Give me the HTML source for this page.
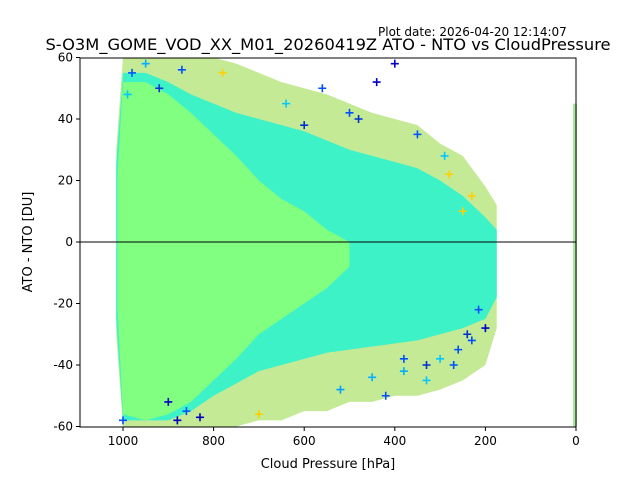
<!DOCTYPE html>
<html><head><meta charset="utf-8"><style>
body{margin:0;background:#fff;}
svg text{font-family:"DejaVu Sans","Liberation Sans",sans-serif;fill:#000;}
</style></head><body>
<svg id="chart" width="640" height="480" viewBox="0 0 640 480" xmlns="http://www.w3.org/2000/svg">
<rect width="640" height="480" fill="#fff"/>
<text x="378" y="36" font-size="12">Plot date: 2026-04-20 12:14:07</text>
<text x="328" y="50" font-size="16.3" text-anchor="middle">S-O3M_GOME_VOD_XX_M01_20260419Z ATO - NTO vs CloudPressure</text>
<g id="plot"></g>
<text x="328" y="468" font-size="13" text-anchor="middle">Cloud Pressure [hPa]</text>
<text transform="translate(32,242) rotate(-90)" font-size="13" text-anchor="middle">ATO - NTO [DU]</text>
</svg>
<script>
const pressures=[1015,1000,950,900,850,800,750,700,650,600,550,500,450,400,350,300,250,200,175];
const outerHi=[30,60,60,60,60,60,58,55,52,50,48,45,42,40,38,32,28,18,12];
const outerLo=[-30,-60,-60,-60,-60,-60,-60,-58,-58,-55,-55,-52,-52,-50,-50,-48,-45,-40,-28];
const midHi=[25,55,55,52,48,45,42,40,38,36,33,30,28,26,24,20,15,8,4];
const midLo=[-25,-58,-58,-58,-55,-50,-46,-42,-40,-38,-36,-35,-34,-33,-32,-30,-28,-25,-18];
const innerP=[1012,1000,950,900,850,800,750,700,650,600,550,500];
const innerHi=[22,52,52,48,42,35,28,20,14,10,4,0];
const innerLo=[-22,-56,-58,-56,-52,-45,-38,-30,-25,-20,-15,-8];
const ptP=[980,950,920,880,860,700,640,560,520,480,440,420,400,380,350,330,300,280,260,240,230,215,200,900,870,600,500,450,380,330,290,270,250,230,830,780,1000,990];
const ptV=[55,58,50,-58,-55,-56,45,50,-48,40,52,-50,58,-42,35,-40,-38,22,-35,-30,15,-22,-28,-52,56,38,42,-44,-38,-45,28,-40,10,-32,-57,55,-58,48];
const ptC=["#0050ff","#00b0ff","#0030d0","#0000c0","#0050ff","#ffd000","#00c8ff","#0050ff","#00a0ff","#0030d0","#0000c0","#0050ff","#0000c0","#00b0ff","#0050ff","#0030d0","#00c8ff","#ffd000","#0050ff","#0030d0","#ffd000","#0050ff","#0000c0","#0000c0","#0050ff","#0030d0","#0050ff","#00b0ff","#0050ff","#00c8ff","#00c8ff","#0050ff","#ffd000","#0050ff","#0000c0","#ffd000","#0050ff","#00c8ff"];
const xTicks=[1000,800,600,400,200,0];
const yTicks=[-60,-40,-20,0,20,40,60];
const L=80,R=576,T=58,B=427;
const X=p=>576-(p/1000)*453;
const Y=v=>242-(v/60)*184.5;
const NS="http://www.w3.org/2000/svg";
const g=document.getElementById('plot');
function mk(t,a){const e=document.createElementNS(NS,t);for(const k in a)e.setAttribute(k,a[k]);g.appendChild(e);return e;}
const cp=mk('clipPath',{id:'c'});const cr=document.createElementNS(NS,'rect');cr.setAttribute('x',L);cr.setAttribute('y',T);cr.setAttribute('width',R-L);cr.setAttribute('height',B-T);cp.appendChild(cr);
function band(ps,hi,lo,fill,name){
 let d='M'+ps.map((p,i)=>X(p)+','+Y(hi[i])).join(' L');
 d+=' L'+ps.slice().reverse().map((p,i)=>X(p)+','+Y(lo[ps.length-1-i])).join(' L')+'Z';
 const e=mk('path',{d:d,fill:fill,'clip-path':'url(#c)'});
 
 
}
band(pressures,outerHi,outerLo,'#c4ea96','outer-scatter-region');
band(pressures,midHi,midLo,'#3ef2c8','mid-scatter-region');
band(innerP,innerHi,innerLo,'#80ff80','core-scatter-region');
const col=mk('rect',{x:X(0)-3,y:Y(45),width:4,height:Y(-60)-Y(45),fill:'#a8e8a0'});


ptP.forEach((p,i)=>{
 const x=X(p),y=Y(ptV[i]);
 const e=mk('path',{d:`M${x-4},${y}H${x+4}M${x},${y-4}V${y+4}`,stroke:ptC[i],'stroke-width':1.6,'clip-path':'url(#c)'});
 
 
});
const zl=mk('line',{x1:L,x2:R,y1:Y(0),y2:Y(0),stroke:'#000','stroke-width':1});


const fr=mk('rect',{x:L,y:T,width:R-L,height:B-T,fill:'none',stroke:'#000','stroke-width':1});


xTicks.forEach(t=>{
 const x=X(t);
 const l=mk('line',{x1:x,x2:x,y1:B,y2:B+4,stroke:'#000'});
 
 
 const tx=mk('text',{x:x,y:B+18,'font-size':12,'text-anchor':'middle'});tx.textContent=t;
 
 
});
yTicks.forEach(t=>{
 const y=Y(t);
 const l=mk('line',{x1:L-4,x2:L,y1:y,y2:y,stroke:'#000'});
 
 
 const tx=mk('text',{x:L-7,y:y+4,'font-size':12,'text-anchor':'end'});tx.textContent=t;
 
 
});
</script>
</body></html>
